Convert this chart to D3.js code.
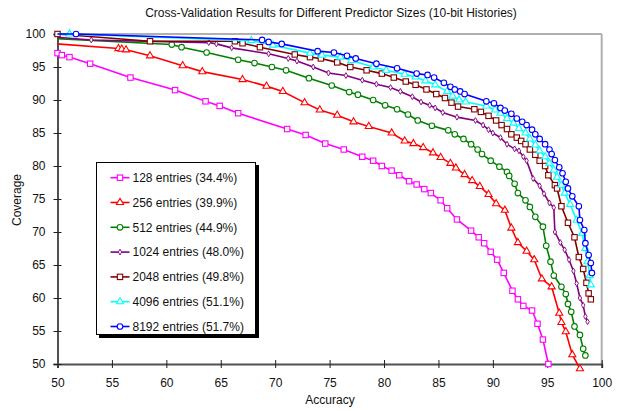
<!DOCTYPE html>
<html>
<head>
<meta charset="utf-8">
<script src="https://cdn.jsdelivr.net/npm/d3@7/dist/d3.min.js"></script>
<style>
body { margin: 0; background: #fff; }
text { font-family: "Liberation Sans", Arial, sans-serif; fill: #111; }
</style>
</head>
<body>
<div id="abc"></div>
<script>
// data (accuracy %, coverage %)
var x128  = [50.0,50.4,51.1,53.0,56.7,60.8,63.6,64.9,66.6,71.1,72.8,74.6,76.3,78.0,79.0,79.8,80.7,81.4,82.3,83.0,83.7,84.3,85.2,85.8,86.7,88.0,88.7,89.2,89.8,90.4,91.0,91.8,92.3,92.8,93.6,94.1,94.6,95.1];
var y128  = [97.1,96.8,96.5,95.5,93.4,91.5,89.8,89.1,88.0,85.6,84.7,83.4,82.5,81.4,80.8,80.0,79.3,78.6,77.7,77.2,76.5,75.9,74.8,73.6,71.9,70.2,69.2,68.3,67.0,65.8,63.8,61.1,59.8,58.8,58.1,56.1,53.7,50.0];
var x256  = [48,55.6,55.9,56.3,58.5,61.5,63.3,67.0,69.2,70.7,72.7,74.1,75.7,77.2,78.6,80.7,81.9,82.7,83.6,84.5,85.2,86.1,86.6,87.4,88.1,88.8,89.6,90.3,91.1,91.7,92.3,93.1,93.8,94.5,95.4,96.1,96.3,96.7,97.3,98.0];
var y256  = [98.75,97.8,97.7,97.6,96.7,95.2,94.3,93.1,92.1,91.3,89.6,88.5,87.7,86.7,86.0,85.0,83.8,83.4,82.8,82.0,81.3,80.4,79.7,78.7,77.8,76.9,75.7,74.3,73.3,70.6,68.4,67.1,65.8,62.9,61.7,57.7,56.3,54.9,51.4,49.3];
var x512  = [47,60.5,61.4,63.7,66.6,68.1,69.7,71.0,73.1,75.2,76.8,77.6,79.0,80.1,81.2,82.2,83.1,84.4,85.9,86.5,87.3,88.0,88.6,89.0,89.8,90.6,91.3,91.5,92.0,92.3,93.0,93.4,93.9,94.6,94.9,95.3,95.6,96.3,96.7,96.9,97.2,97.5,98.0,98.3,98.5];
var y512  = [99.55,98.4,98.0,97.2,96.1,95.6,95.0,94.5,93.3,92.2,91.2,90.8,90.0,89.2,88.6,87.8,86.9,86.1,85.4,84.8,84.1,83.3,82.5,81.8,80.8,79.9,79.1,78.5,77.3,75.9,74.8,73.8,72.3,70.8,67.9,65.5,63.4,61.7,60.6,59.1,57.9,55.7,54.4,52.3,51.3];
var x1024 = [47,53.1,63.9,64.6,66.0,69.4,71.2,72.0,73.5,74.9,76.5,78.0,79.3,80.6,81.5,82.6,83.4,84.2,84.7,85.4,86.7,88.4,89.1,89.6,90.0,90.7,91.3,92.0,92.4,92.8,93.1,93.7,94.3,94.7,95.2,95.6,95.7,96.2,96.6,97.0,97.4,97.7,98.0,98.3,98.5,98.7];
var y1024 = [99.9,99.1,98.7,98.5,97.9,97.0,96.3,95.9,95.0,94.1,93.7,93.0,92.4,91.9,91.3,90.5,89.7,89.2,88.8,88.1,87.4,86.9,86.2,85.5,85.0,84.3,83.3,82.6,82.3,81.4,80.8,78.1,77.0,75.8,74.4,73.7,70.0,68.4,67.3,65.8,64.1,62.2,60.0,58.9,57.2,56.4];
var x2048 = [50.0,58.5,66.3,67.0,68.6,71.8,73.2,74.2,75.7,76.9,78.4,79.8,80.9,82.0,82.9,83.9,84.8,85.6,86.2,86.8,88.3,88.9,89.6,90.3,90.8,91.3,91.7,92.2,92.6,93.0,93.4,93.9,94.3,94.8,95.1,95.7,95.9,96.3,96.9,97.5,97.9,98.3,98.6,98.8,99.0];
var y2048 = [100.0,98.9,98.9,98.6,98.0,96.9,96.5,96.3,95.7,95.0,94.5,94.0,93.4,92.8,92.3,91.6,90.9,90.3,89.6,89.0,88.6,88.2,87.6,86.9,86.2,85.6,84.8,84.3,83.8,83.3,82.5,81.7,80.8,80.0,78.6,77.1,76.6,73.9,71.4,69.2,66.2,64.4,62.3,60.7,59.8];
var x4096 = [47,51.1,67.8,69.8,73.2,74.3,76.0,77.0,79.0,80.2,81.9,82.9,83.8,84.7,85.8,86.3,86.9,87.5,89.4,90.2,90.7,91.3,91.9,92.4,93.0,93.4,93.9,94.3,94.8,95.2,95.6,95.9,96.3,96.6,97.1,97.7,98.2,98.5,98.7,98.9,99.0];
var y4096 = [100,100,99.0,98.3,97.1,96.8,96.5,96.0,95.0,94.5,93.9,93.5,92.9,92.3,91.3,90.6,90.0,89.7,89.1,88.5,88.0,87.2,86.5,85.7,85.0,84.1,83.2,82.3,81.4,80.4,79.4,78.3,77.1,75.9,74.2,71.8,69.8,67.5,65.5,63.4,62.0];
var x8192 = [47,51.7,68.8,69.4,70.6,73.9,75.4,76.6,77.4,79.3,81.2,83.0,84.0,84.6,85.5,86.1,86.5,87.0,87.4,89.4,90.1,90.7,91.1,91.7,92.2,92.7,93.1,93.6,93.9,94.3,94.8,95.2,95.4,95.7,96.1,96.4,96.7,96.9,97.3,97.9,98.0,98.4,98.5,98.8,99.0,99.1];
var y8192 = [100,100,99.1,98.8,98.5,97.4,97.2,96.7,96.3,95.5,94.8,94.0,93.8,93.4,92.6,92.0,91.6,91.3,90.9,89.8,89.5,88.8,88.4,87.9,87.2,86.7,86.2,85.5,84.8,84.1,83.3,82.5,81.8,80.9,79.8,78.9,77.6,76.6,75.4,73.9,71.8,70.3,68.3,66.5,65.3,63.8];

var nombres = ["128 entries (34.4%)", "256 entries (39.9%)", "512 entries (44.9%)", "1024 entries (48.0%)",
               "2048 entries (49.8%)", "4096 entries (51.1%)", "8192 entries (51.7%)"];
var xs = [x128, x256, x512, x1024, x2048, x4096, x8192];
var ys = [y128, y256, y512, y1024, y2048, y4096, y8192];
var colores = ["#ff00ff", "#ff0000", "#008000", "#800080", "#800000", "#00ffff", "#0000ff"];
var marcas = ["square", "triangle", "circle", "diamond", "square", "triangle", "circle"];

var ticks_x = [50,55,60,65,70,75,80,85,90,95,100];
var ticks_y = [50,55,60,65,70,75,80,85,90,95,100];

var width = 623;
var height = 411;
var izq = 57.5, der = 601.7, arriba = 34, abajo = 364;

var canvas = d3.select("#abc")
				.append("svg")
				.attr("width", width)
				.attr("height", height);

var x = d3.scaleLinear().domain([50, 100]).range([izq, der]);
var y = d3.scaleLinear().domain([50, 100]).range([abajo, arriba]);

// marco gris arriba y derecha
canvas.append("line").attr("x1", izq).attr("x2", der).attr("y1", arriba).attr("y2", arriba)
		.attr("stroke", "#b0b0b0").attr("stroke-width", 2);
canvas.append("line").attr("x1", der).attr("x2", der).attr("y1", arriba).attr("y2", abajo)
		.attr("stroke", "#b0b0b0").attr("stroke-width", 2);

canvas.append("defs").append("clipPath").attr("id", "recorte")
		.append("rect").attr("x", izq).attr("y", 0).attr("width", width - izq).attr("height", height);

// Ejes
var eje_x = canvas.append("g")
				.attr("transform", "translate(0," + abajo + ")")
				.call(d3.axisBottom(x).tickValues(ticks_x).tickSize(4).tickPadding(8));
var eje_y = canvas.append("g")
				.attr("transform", "translate(" + izq + ",0)")
				.call(d3.axisLeft(y).tickValues(ticks_y).tickSize(4).tickPadding(8));

eje_x.selectAll(".tick line").attr("y1", -4).attr("y2", 4);
eje_y.selectAll(".tick line").attr("x1", 4).attr("x2", -4);
canvas.selectAll(".domain").attr("stroke", "#505050").attr("stroke-width", 2);
canvas.selectAll(".tick line").attr("stroke", "#202020");
canvas.selectAll(".tick text").attr("font-size", 12).style("fill", "#111");
eje_x.selectAll(".tick text").attr("dy", "0.9em");

// Series
var linea = d3.line().x(function(d){ return x(d[0]); }).y(function(d){ return y(d[1]); });

function dibujar_marca(g, tipo, cx, cy, color)
{
	if(tipo == "square")
		g.append("rect").attr("x", cx - 2.7).attr("y", cy - 2.7).attr("width", 5.4).attr("height", 5.4)
			.attr("fill", "#fff").attr("stroke", color).attr("stroke-width", 1.1);
	else if(tipo == "circle")
		g.append("circle").attr("cx", cx).attr("cy", cy).attr("r", 2.8)
			.attr("fill", "#fff").attr("stroke", color).attr("stroke-width", 1.1);
	else if(tipo == "triangle")
		g.append("path").attr("d", d3.symbol().type(d3.symbolTriangle).size(22)())
			.attr("transform", "translate(" + cx + "," + cy + ")")
			.attr("fill", "#fff").attr("stroke", color).attr("stroke-width", 1.1);
	else
		g.append("path").attr("d", d3.symbol().type(d3.symbolDiamond).size(10)())
			.attr("transform", "translate(" + cx + "," + cy + ")")
			.attr("fill", "#fff").attr("stroke", color).attr("stroke-width", 0.9);
}

for(i = 0; i < 7; i++)
{
	var puntos = d3.zip(xs[i], ys[i]);
	var grupo = canvas.append("g");
	grupo.append("path")
			.attr("d", linea(puntos))
			.attr("fill", "none")
			.attr("stroke", colores[i])
			.attr("stroke-width", 1.6)
			.attr("clip-path", "url(#recorte)");
	for(j = 0; j < puntos.length; j++)
	{
		if(puntos[j][0] < 50) continue;
		dibujar_marca(grupo, marcas[i], x(puntos[j][0]), y(puntos[j][1]), colores[i]);
	}
}

// Leyenda
var ley = canvas.append("g");
ley.append("rect").attr("x", 99).attr("y", 165).attr("width", 160).attr("height", 173).attr("fill", "#000");
ley.append("rect").attr("x", 96.5).attr("y", 162.5).attr("width", 159).attr("height", 172)
		.attr("fill", "#fff").attr("stroke", "#000").attr("stroke-width", 1);
for(i = 0; i < 7; i++)
{
	var yy = 177.7 + i*24.8;
	ley.append("line").attr("x1", 110.5).attr("x2", 129.5).attr("y1", yy).attr("y2", yy)
			.attr("stroke", colores[i]).attr("stroke-width", 1.6);
	dibujar_marca(ley, marcas[i], 120, yy, colores[i]);
	ley.append("text").attr("x", 132.5).attr("y", yy + 4.3).attr("font-size", 12).text(nombres[i]);
}

// Titulos
canvas.append("text").attr("x", 331).attr("y", 17).attr("text-anchor", "middle").attr("font-size", 12)
		.text("Cross-Validation Results for Different Predictor Sizes (10-bit Histories)");
canvas.append("text").attr("x", 330).attr("y", 404).attr("text-anchor", "middle").attr("font-size", 12)
		.text("Accuracy");
canvas.append("text").attr("transform", "translate(21,200) rotate(-90)").attr("text-anchor", "middle")
		.attr("font-size", 12).text("Coverage");
</script>
</body>
</html>
